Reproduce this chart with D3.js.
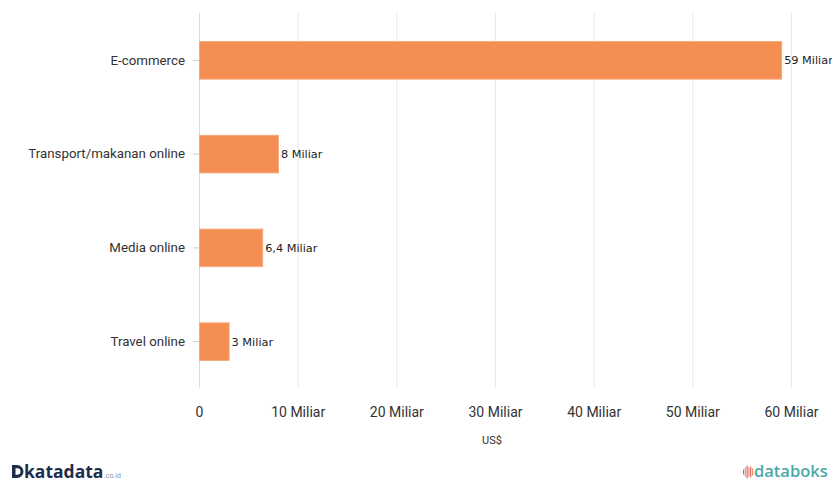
<!DOCTYPE html>
<html>
<head>
<meta charset="utf-8">
<script src="https://cdn.jsdelivr.net/npm/d3@7"></script>
<style>
  body { margin: 0; background: #fff; }
  svg { display: block; font-family: Roboto, sans-serif; }
</style>
</head>
<body>
<script>
'use strict'

const categories = ['E-commerce', 'Transport/makanan online', 'Media online', 'Travel online']
const values = [59, 8, 6.4, 3]
const valueLabels = ['59 Miliar', '8 Miliar', '6,4 Miliar', '3 Miliar']
const xTicks = [0, 10, 20, 30, 40, 50, 60]
const xTickLabels = ['0', '10 Miliar', '20 Miliar', '30 Miliar', '40 Miliar', '50 Miliar', '60 Miliar']
const axisTitle = 'US$'

const width = 832, height = 481
const margin = {top: 13, right: 41, bottom: 93, left: 199}

const svg = d3.select('body').append('svg')
  .attr('width', width)
  .attr('height', height)

const x = d3.scaleLinear()
  .domain([0, 60])
  .range([margin.left, width - margin.right])

const y = d3.scaleBand()
  .domain(categories)
  .range([margin.top + 0.5, height - margin.bottom + 0.5])
  .paddingInner(0.6)
  .paddingOuter(0.3)

// gridlines
svg.append('g')
  .selectAll('line')
  .data(xTicks)
  .enter()
  .append('line')
  .attr('x1', d => x(d) + 0.5)
  .attr('x2', d => x(d) + 0.5)
  .attr('y1', margin.top)
  .attr('y2', height - margin.bottom)
  .attr('stroke', d => d === 0 ? '#dcdcdc' : '#e8e8e8')
  .attr('stroke-width', 1)

// x axis labels
const xAxis = d3.axisBottom(x)
  .tickValues(xTicks)
  .tickFormat((d, i) => xTickLabels[i])
  .tickSize(0)
  .tickPadding(17)

svg.append('g')
  .attr('transform', 'translate(0,' + (height - margin.bottom + 2) + ')')
  .call(xAxis)
  .call(g => g.select('.domain').remove())
  .call(g => g.selectAll('text')
    .attr('font-family', 'Roboto, sans-serif')
    .attr('font-size', 14)
    .attr('fill', '#333'))

svg.append('text')
  .attr('x', x(30) - 3)
  .attr('y', 444)
  .attr('text-anchor', 'middle')
  .attr('font-size', 11)
  .attr('fill', '#333')
  .text(axisTitle)

// y axis labels + small ticks
const yAxis = d3.axisLeft(y)
  .tickSize(6)
  .tickPadding(8)

svg.append('g')
  .attr('transform', 'translate(' + margin.left + ',0)')
  .call(yAxis)
  .call(g => g.select('.domain').remove())
  .call(g => g.selectAll('line').attr('stroke', '#ccc'))
  .call(g => g.selectAll('text')
    .attr('font-family', 'Roboto, sans-serif')
    .attr('font-size', 13.3)
    .attr('fill', '#333'))

// bars
svg.append('g')
  .selectAll('rect')
  .data(values)
  .enter()
  .append('rect')
  .attr('x', x(0) + 0.5)
  .attr('y', (d, i) => y(categories[i]))
  .attr('width', d => x(d) - x(0))
  .attr('height', y.bandwidth())
  .attr('fill', '#f58e52')
  .attr('stroke', '#f7a878')
  .attr('stroke-width', 1)

// value labels
svg.append('g')
  .selectAll('text')
  .data(values)
  .enter()
  .append('text')
  .attr('x', d => x(d) + 3)
  .attr('y', (d, i) => y(categories[i]) + y.bandwidth() / 2)
  .attr('dy', '0.35em')
  .attr('font-family', '"DejaVu Sans", sans-serif')
  .attr('font-size', 11.3)
  .attr('fill', '#222')
  .text((d, i) => valueLabels[i])

// footer logos
const kata = svg.append('g').attr('transform', 'translate(12,465)')
kata.append('path')
  .attr('d', 'M0,0 h5 a6.5,6.5 0 0 1 0,13 h-5 z M3.5,3.3 v6.4 h1.8 a3.2,3.2 0 0 0 0,-6.4 z')
  .attr('fill', '#1f2d4d')
  .attr('fill-rule', 'evenodd')
kata.append('text')
  .attr('x', 12)
  .attr('y', 12.5)
  .attr('font-family', '"Open Sans", sans-serif')
  .attr('font-size', 17.5)
  .attr('font-weight', 700)
  .attr('fill', '#1f2d4d')
  .text('katadata')
kata.append('text')
  .attr('x', 92)
  .attr('y', 12.5)
  .attr('font-size', 7)
  .attr('fill', '#8a96a3')
  .text('.co.id')

const dbk = svg.append('g').attr('transform', 'translate(743,464)')
const barsIcon = [5, 9, 13, 9, 11, 7]
dbk.selectAll('rect')
  .data(barsIcon)
  .enter()
  .append('rect')
  .attr('x', (d, i) => i * 1.8)
  .attr('y', d => 7 - d / 2 + 1)
  .attr('width', 1.1)
  .attr('height', d => d)
  .attr('fill', (d, i) => i % 2 ? '#f0855a' : '#e35f5f')
dbk.append('text')
  .attr('x', 11)
  .attr('y', 13)
  .attr('font-family', '"Open Sans", sans-serif')
  .attr('font-size', 16.5)
  .attr('font-weight', 600)
  .attr('fill', '#4aa9a6')
  .text('databoks')
</script>
</body>
</html>
